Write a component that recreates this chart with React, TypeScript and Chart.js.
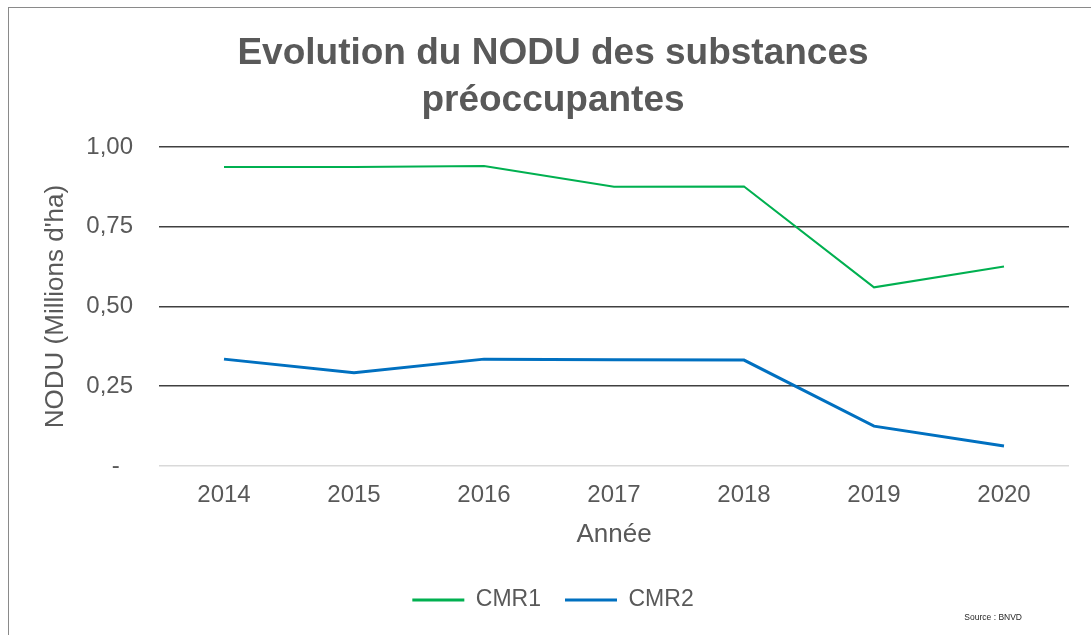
import React, { useEffect, useRef } from "react";
import { Chart, registerables } from "chart.js";

Chart.register(...registerables);

const years = ["2014", "2015", "2016", "2017", "2018", "2019", "2020"];
const cmr1 = [0.937, 0.937, 0.94, 0.875, 0.876, 0.56, 0.625];
const cmr2 = [0.335, 0.292, 0.335, 0.333, 0.332, 0.125, 0.063];
const yTicks = [0, 0.25, 0.5, 0.75, 1];
const titleLines = ["Evolution du NODU des substances", "préoccupantes"];
const sourceText = "Source : BNVD";

const FONT = '"Liberation Sans", Arial, sans-serif';
const TEXT = "#595959";

const sourcePlugin = {
  id: "sourceText",
  afterDraw(chart: any) {
    const ctx = chart.ctx;
    ctx.save();
    ctx.font = '8.5px "Liberation Sans Narrow", "Liberation Sans", Arial, sans-serif';
    ctx.fillStyle = "#262626";
    ctx.textAlign = "right";
    ctx.textBaseline = "middle";
    ctx.fillText(sourceText, 1022, 618);
    ctx.restore();
  },
};

export default function App() {
  const ref = useRef<HTMLCanvasElement | null>(null);

  useEffect(() => {
    if (!ref.current) return;
    Chart.defaults.font.family = FONT;
    const chart = new Chart(ref.current, {
      type: "line",
      data: {
        labels: years,
        datasets: [
          {
            label: "CMR1",
            data: cmr1,
            borderColor: "#00b050",
            backgroundColor: "#00b050",
            borderWidth: 2,
            pointRadius: 0,
            tension: 0,
          },
          {
            label: "CMR2",
            data: cmr2,
            borderColor: "#0070c0",
            backgroundColor: "#0070c0",
            borderWidth: 3,
            pointRadius: 0,
            tension: 0,
          },
        ],
      },
      options: {
        responsive: false,
        animation: false,
        layout: { padding: { left: 37, right: 22, top: 0, bottom: 13.5 } },
        plugins: {
          title: {
            display: true,
            text: titleLines,
            color: TEXT,
            font: { size: 37, weight: "bold", lineHeight: 1.27, family: FONT },
            padding: { top: 30, bottom: 23 },
          },
          legend: {
            position: "bottom",
            labels: {
              color: TEXT,
              font: { size: 23, family: FONT },
              boxWidth: 52,
              boxHeight: 3,
              padding: 24,
              generateLabels(c: any) {
                return c.data.datasets.map((d: any, i: number) => ({
                  text: d.label,
                  fillStyle: d.borderColor,
                  strokeStyle: d.borderColor,
                  lineWidth: 0,
                  hidden: false,
                  datasetIndex: i,
                  fontColor: TEXT,
                }));
              },
            },
          },
          tooltip: { enabled: false },
        },
        scales: {
          x: {
            offset: true,
            grid: { display: false, drawTicks: false, offset: true },
            border: { display: false },
            ticks: { color: TEXT, font: { size: 24 }, padding: 14.6 },
            title: {
              display: true,
              text: "Année",
              color: TEXT,
              font: { size: 26 },
              padding: { top: 4, bottom: 14 },
            },
            afterFit(scale: any) {
              scale.height = 98.5;
            },
          },
          y: {
            min: 0,
            max: 1,
            afterBuildTicks(scale: any) {
              scale.ticks = yTicks.map((v) => ({ value: v }));
            },
            grid: {
              drawTicks: false,
              lineWidth: 1.5,
              color: (ctx: any) => (ctx.tick && ctx.tick.value === 0 ? "#d9d9d9" : "#404040"),
            },
            border: { display: false },
            ticks: {
              color: TEXT,
              font: { size: 24 },
              padding: 26,
              callback: (v: any) => (Number(v) === 0 ? "-  " : Number(v).toFixed(2).replace(".", ",")),
            },
            title: {
              display: true,
              text: "NODU (Millions d'ha)",
              color: TEXT,
              font: { size: 26 },
              padding: { top: 3.4, bottom: 0 },
            },
            afterFit(scale: any) {
              scale.width = 122;
            },
          },
        },
      },
      plugins: [sourcePlugin],
    } as any);
    return () => chart.destroy();
  }, []);

  return (
    <div style={{ position: "fixed", left: 0, top: 0, width: 1091, height: 635, overflow: "hidden", background: "#fff" }}>
      <div
        style={{
          position: "absolute",
          left: 8,
          top: 7,
          width: 1200,
          height: 800,
          border: "1.5px solid #8a8a8a",
          boxSizing: "border-box",
        }}
      />
      <canvas ref={ref} width={1091} height={635} style={{ position: "absolute", left: 0, top: 0 }} />
    </div>
  );
}
